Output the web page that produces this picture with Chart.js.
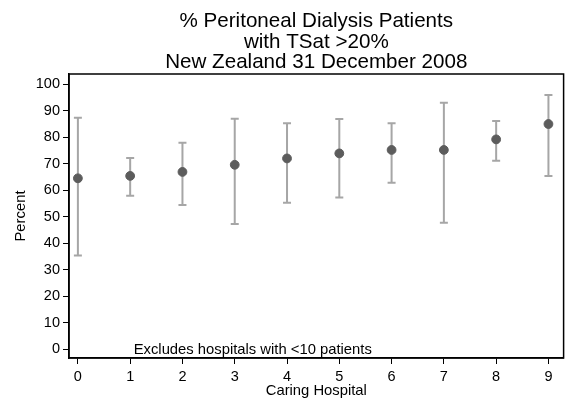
<!DOCTYPE html>
<html>
<head>
<meta charset="utf-8">
<script src="https://cdn.jsdelivr.net/npm/chart.js@4"></script>
<style>
html,body{margin:0;padding:0;background:#fff;}
#wrap{width:569px;height:399px;position:relative;}
</style>
</head>
<body>
<div id="wrap"><canvas id="c" width="569" height="399"></canvas></div>
<script>
const hospitals = [0, 1, 2, 3, 4, 5, 6, 7, 8, 9];
const percent   = [64.5, 65.4, 66.9, 69.6, 72.0, 73.9, 75.2, 75.2, 79.2, 85.0];
const upper     = [87.4, 72.2, 77.9, 87.0, 85.3, 86.9, 85.3, 93.0, 86.1, 96.0];
const lower     = [35.3, 57.9, 54.4, 47.2, 55.3, 57.2, 62.8, 47.7, 71.1, 65.4];
const yTicks    = [0, 10, 20, 30, 40, 50, 60, 70, 80, 90, 100];
const titleLines = ['% Peritoneal Dialysis Patients', 'with TSat >20%', 'New Zealand 31 December 2008'];
const xTitle = 'Caring Hospital';
const yTitle = 'Percent';
const note = 'Excludes hospitals with <10 patients';

const FONT = '"Liberation Sans", Arial, sans-serif';

const extras = {
  id: 'extras',
  beforeDatasetsDraw(chart) {
    const {ctx, scales: {x, y}} = chart;
    ctx.save();
    ctx.strokeStyle = '#a6a6a6';
    ctx.lineWidth = 2;
    hospitals.forEach((h, i) => {
      const px = x.getPixelForValue(h);
      const pt = y.getPixelForValue(upper[i]);
      const pb = y.getPixelForValue(lower[i]);
      ctx.beginPath();
      ctx.moveTo(px, pt); ctx.lineTo(px, pb);
      ctx.moveTo(px - 4, pt); ctx.lineTo(px + 4, pt);
      ctx.moveTo(px - 4, pb); ctx.lineTo(px + 4, pb);
      ctx.stroke();
    });
    ctx.restore();
  },
  afterDraw(chart) {
    const {ctx, chartArea: a, scales: {x, y}} = chart;
    ctx.save();
    ctx.strokeStyle = '#000';
    ctx.lineWidth = 1.5;
    ctx.strokeRect(a.left, a.top, a.right - a.left, a.bottom - a.top);
    ctx.fillStyle = '#000';
    ctx.font = '20.6px ' + FONT;
    ctx.textAlign = 'center';
    ctx.textBaseline = 'alphabetic';
    const cx = (a.left + a.right) / 2;
    titleLines.forEach((t, i) => ctx.fillText(t, cx, 27 + i * 20.5));
    ctx.font = '14.8px ' + FONT;
    ctx.fillText(xTitle, cx, 395);
    ctx.save();
    ctx.translate(25, (a.top + a.bottom) / 2);
    ctx.rotate(-Math.PI / 2);
    ctx.fillText(yTitle, 0, 0);
    ctx.restore();
    ctx.textAlign = 'left';
    ctx.textBaseline = 'middle';
    ctx.fillText(note, x.getPixelForValue(1) + 3.5, y.getPixelForValue(0) + 0.5);
    ctx.restore();
  }
};

new Chart(document.getElementById('c'), {
  type: 'scatter',
  data: {
    datasets: [{
      data: hospitals.map((h, i) => ({x: h, y: percent[i]})),
      backgroundColor: '#5c5c5c',
      borderColor: '#5c5c5c',
      pointRadius: 4.4,
      pointHoverRadius: 4.4
    }]
  },
  options: {
    responsive: false,
    animation: false,
    events: [],
    layout: {padding: {left: 0, right: 3, top: 74, bottom: 0}},
    plugins: {legend: {display: false}, tooltip: {enabled: false}, title: {display: false}},
    scales: {
      x: {
        type: 'linear',
        min: -0.17, max: 9.29,
        afterBuildTicks(s) { s.ticks = hospitals.map(v => ({value: v})); },
        afterFit(s) { s.height = 41; },
        grid: {drawOnChartArea: false, drawTicks: true, tickLength: 6, color: '#000', lineWidth: 1},
        border: {display: true, color: '#000', width: 1.5},
        ticks: {color: '#000', font: {family: FONT, size: 14.5}, padding: 4, autoSkip: false, maxRotation: 0}
      },
      y: {
        min: -3.4, max: 103.9,
        afterBuildTicks(s) { s.ticks = yTicks.map(v => ({value: v})); },
        afterFit(s) { s.width = 69; },
        grid: {drawOnChartArea: false, drawTicks: true, tickLength: 6, color: '#000', lineWidth: 1},
        border: {display: true, color: '#000', width: 1.5},
        ticks: {color: '#000', font: {family: FONT, size: 14.5}, padding: 3, autoSkip: false}
      }
    }
  },
  plugins: [extras]
});
</script>
</body>
</html>
